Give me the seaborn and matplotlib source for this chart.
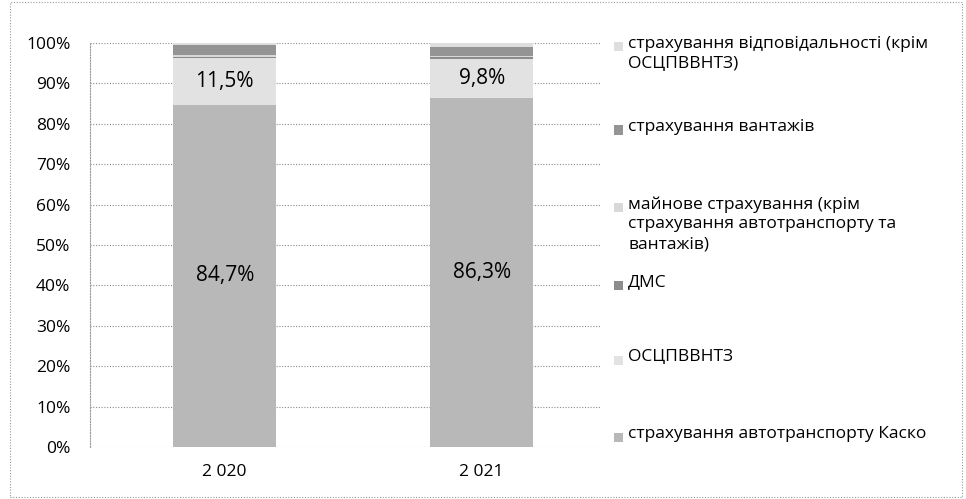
import numpy as np
import pandas as pd
import matplotlib
matplotlib.use('Agg')
import matplotlib.pyplot as plt
from matplotlib.patches import Rectangle
import seaborn as sns

# Дані (частки, %)
years = ['2 020', '2 021']
kasko = [84.7, 86.3]
oscpv = [11.5, 9.8]
dms = [0.3, 0.3]
mainove = [0.4, 0.3]
vantazh = [2.6, 2.3]
vidpov = [0.5, 1.0]

labels = ['страхування автотранспорту Каско', 'ОСЦПВВНТЗ', 'ДМС',
          'майнове страхування (крім\nстрахування автотранспорту та\nвантажів)',
          'страхування вантажів',
          'страхування відповідальності (крім\nОСЦПВВНТЗ)']
series = [kasko, oscpv, dms, mainove, vantazh, vidpov]
colors = ['#b8b8b8', '#e2e2e2', '#8c8c8c', '#d8d8d8', '#949494', '#dedede']

sns.set_style('white')
plt.rcParams['font.family'] = ['Open Sans', 'DejaVu Sans']
plt.rcParams['text.color'] = 'black'
plt.rcParams['xtick.color'] = 'black'
plt.rcParams['ytick.color'] = 'black'

fig = plt.figure(figsize=(9.66, 4.99), dpi=100)
ax = fig.add_axes([0.093, 0.104, 0.528, 0.81])

# накопичені суми, малюємо зверху вниз
cum = np.cumsum(np.array(series), axis=0)
for i in range(len(series) - 1, -1, -1):
    df = pd.DataFrame({'year': years, 'value': cum[i]})
    sns.barplot(data=df, x='year', y='value', color=colors[i], width=0.4,
                saturation=1, errorbar=None, ax=ax, zorder=3, linewidth=0)

# підписи значень
for j in range(len(years)):
    ax.text(j, kasko[j] / 2, f'{kasko[j]:.1f}%'.replace('.', ','),
            ha='center', va='center', fontsize=15, zorder=5)
    ax.text(j, kasko[j] + oscpv[j] / 2, f'{oscpv[j]:.1f}%'.replace('.', ','),
            ha='center', va='center', fontsize=15, zorder=5)

ax.set_ylim(0, 100)
ax.set_xlim(-0.525, 1.46)
ax.set_yticks(range(0, 101, 10))
ax.set_yticklabels([f'{v}%' for v in range(0, 101, 10)], fontsize=12.5)
ax.tick_params(axis='x', labelsize=12.5, length=0, pad=12)
ax.tick_params(axis='y', length=0, pad=14)
ax.set_xlabel('')
ax.set_ylabel('')
ax.yaxis.grid(True, color='#8a8a8a', linestyle=(0, (1, 1.5)), linewidth=0.8, zorder=0)
for s in ['top', 'right', 'bottom']:
    ax.spines[s].set_visible(False)
ax.spines['left'].set_color('#9a9a9a')
ax.spines['left'].set_linestyle((0, (1, 1.5)))
ax.spines['left'].set_linewidth(0.8)

# легенда
leg_y = [437, 360, 285, 207, 130, 47]
for lab, c, y in zip(labels, colors, leg_y):
    fy = 1 - y / 499
    fig.add_artist(Rectangle((614 / 966, fy - 4.5 / 499), 9 / 966, 9 / 499,
                             transform=fig.transFigure, facecolor=c,
                             edgecolor='none'))
    fig.text(628 / 966, fy + 11 / 499, lab, ha='left', va='top', fontsize=12.5,
             linespacing=1.32)

# рамка діаграми
fig.add_artist(Rectangle((10 / 966, 2 / 499), 952 / 966, 495 / 499,
                         transform=fig.transFigure, facecolor='none',
                         edgecolor='#9a9a9a', linewidth=0.8,
                         linestyle=(0, (1, 1.5))))

fig.savefig('out.png', dpi=100)
